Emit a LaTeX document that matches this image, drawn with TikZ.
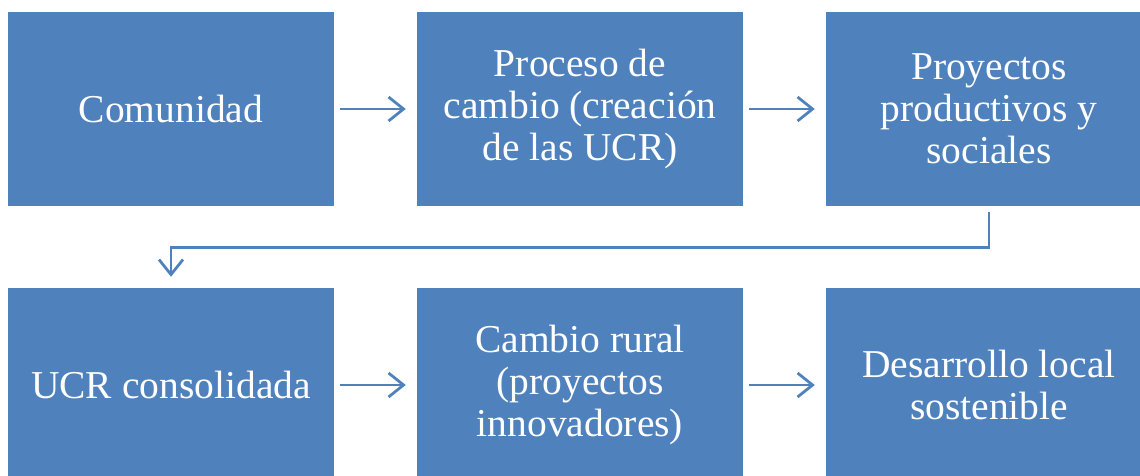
\documentclass[tikz,border=0pt]{standalone}
\usepackage{fontspec}
\setmainfont{Liberation Serif}
\usetikzlibrary{arrows.meta}
\definecolor{boxblue}{HTML}{4F81BD}
\tikzset{
  box/.style={fill=boxblue, draw=none, minimum width=326pt, minimum height=194pt,
    inner sep=0pt, text=white, align=center,
    font=\fontsize{39.5}{42}\selectfont},
  arr/.style={draw=boxblue, line width=2.8pt, -{Straight Barb[length=15pt,width=24pt,line width=2.8pt]}}
}
\begin{document}
\begin{tikzpicture}[x=1pt,y=-1pt]
\useasboundingbox (0,0) rectangle (1140,476);
\clip (0,0) rectangle (1140,476);
\node[box] (b1) at (171,109) {Comunidad};
\node[box] (b2) at (580,109) {Proceso de\\cambio (creación\\de las UCR)};
\node[box] (b3) at (989,109) {Proyectos\\productivos y\\sociales};
\node[box] (b4) at (171,385) {UCR consolidada};
\node[box] (b5) at (580,385) {Cambio rural\\(proyectos\\innovadores)};
\node[box] (b6) at (989,385) {Desarrollo local\\sostenible};
\draw[arr] ([xshift=6pt]b1.east) -- ([xshift=-11pt]b2.west);
\draw[arr] ([xshift=6pt]b2.east) -- ([xshift=-11pt]b3.west);
\draw[arr] ([xshift=6pt]b4.east) -- ([xshift=-11pt]b5.west);
\draw[arr] ([xshift=6pt]b5.east) -- ([xshift=-11pt]b6.west);
\coordinate (c1) at ([yshift=-41pt]b3.south);
\draw[arr] ([yshift=-6pt]b3.south) -- (c1) -| ([yshift=11pt]b4.north);
\end{tikzpicture}
\end{document}
